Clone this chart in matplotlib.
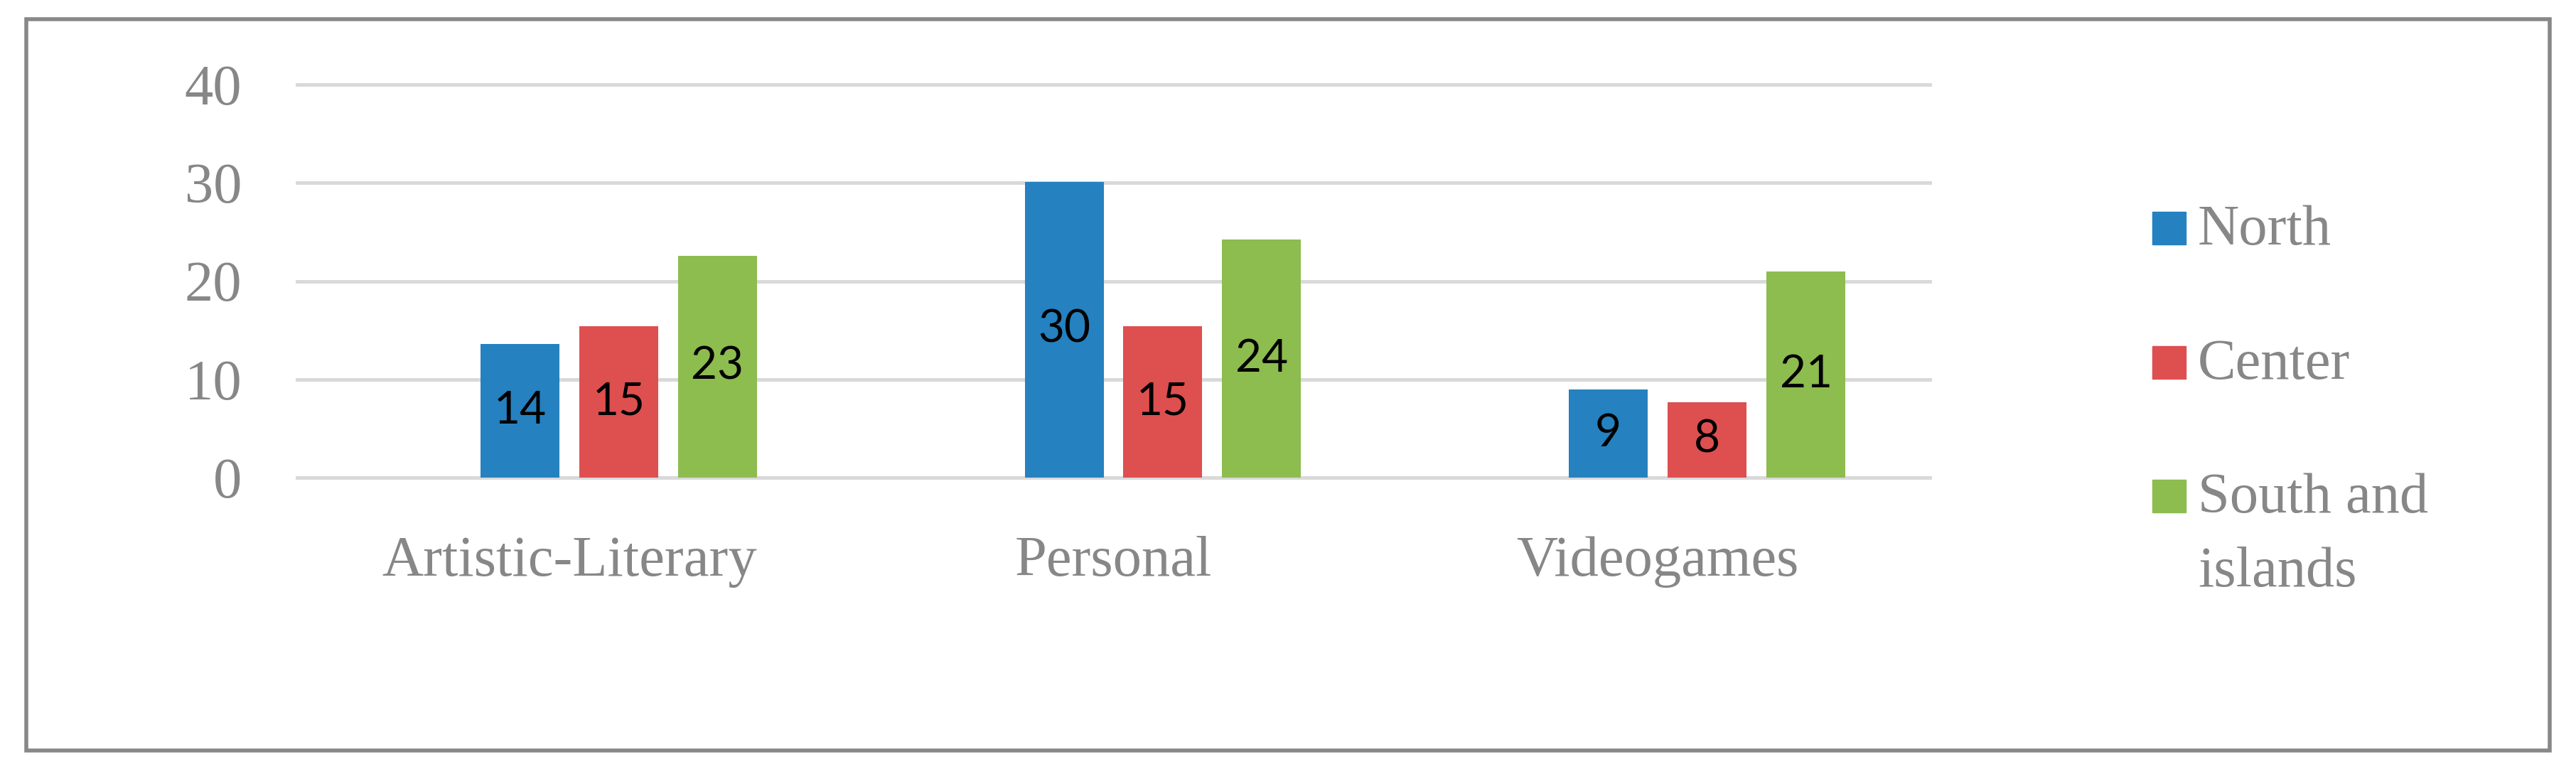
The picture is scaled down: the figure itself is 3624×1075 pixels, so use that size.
import numpy as np
import matplotlib
matplotlib.use("Agg")
import matplotlib.pyplot as plt
from matplotlib.patches import Rectangle

# data
categories = ["Artistic-Literary", "Personal", "Videogames"]
series_names = ["North", "Center", "South and\nislands"]
north = [13.6, 30.1, 9.0]
center = [15.4, 15.4, 7.7]
south = [22.6, 24.2, 21.0]
y_ticks = [0, 10, 20, 30, 40]

colors = ["#2581C0", "#DE4F4F", "#8DBC4F"]
gray = "#878787"
serif = "Liberation Serif"

W, H = 3624, 1075
fig = plt.figure(figsize=(W / 100, H / 100), dpi=100)
ax = fig.add_axes([418 / W, (H - 672) / H, 2297 / W, 553 / H])

x = np.arange(len(categories))
slot = 0.1815
width = 0.145
offsets = [-0.5 * slot, 0.5 * slot, 1.5 * slot]

for vals, col, off in zip([north, center, south], colors, offsets):
    bars = ax.bar(x + off, vals, width=width, color=col, zorder=3)
    ax.bar_label(bars, fmt="%.0f", label_type="center",
                 fontsize=46, family="Lato", color="black", zorder=4)

ax.set_xlim(-0.5, 2.5)
ax.set_ylim(0, 40)
ax.set_yticks(y_ticks)
ax.set_xticks(x)
ax.set_xticklabels(categories)
ax.grid(axis="y", color="#D9D9D9", linewidth=3.6, zorder=0)
for gl in ax.get_ygridlines():
    gl.set_clip_on(False)
for s in ax.spines.values():
    s.set_visible(False)
ax.tick_params(axis="y", length=0, pad=56, labelsize=58, labelcolor=gray)
ax.tick_params(axis="x", length=0, pad=59, labelsize=58, labelcolor=gray)
for lab in ax.get_xticklabels() + ax.get_yticklabels():
    lab.set_family(serif)

# legend, drawn by hand so the marker sits on the first text line
leg_x = 3028
leg_bottoms = [344, 533, 721]
for name, col, yb in zip(series_names, colors, leg_bottoms):
    fig.add_artist(Rectangle((leg_x / W, (H - yb) / H), 47 / W, 46 / H,
                             transform=fig.transFigure, color=col))
    fig.text(3092 / W, (H - yb + 56) / H, name, fontsize=58, family=serif,
             color=gray, va="top", ha="left", linespacing=1.55)

# outer frame
fig.add_artist(Rectangle((37 / W, 19 / H), 3550 / W, 1029.5 / H,
                         transform=fig.transFigure, fill=False,
                         edgecolor="#888888", linewidth=4))

plt.savefig("out.png", dpi=100)
plt.close()
